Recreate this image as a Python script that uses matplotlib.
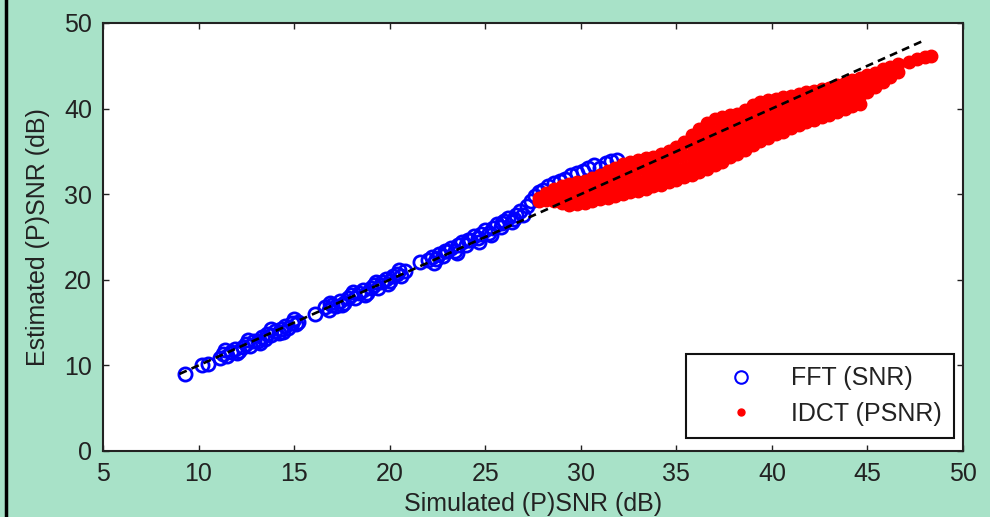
"""
plot.py - Estimated vs simulated (P)SNR, FFT and IDCT.
"""

import matplotlib
matplotlib.use("Agg")
import matplotlib.pyplot as plt
from matplotlib.lines import Line2D

plt.rcParams["font.family"] = ["Liberation Sans", "DejaVu Sans"]

# FFT (SNR) - cercles bleus
fft_x = [9.3, 10.2, 10.5, 11.1, 11.3, 11.5, 11.7, 11.9, 12.1, 12.3, 12.5,
         12.7, 12.9, 13.1, 13.3, 13.5, 13.6, 13.8, 14.0, 14.2, 14.3, 14.5,
         14.7, 14.9, 15.1, 15.2, 16.1, 16.6, 16.8, 17.0, 17.2, 17.4, 17.6,
         17.8, 18.0, 18.2, 18.4, 18.6, 18.8, 19.0, 19.2, 19.4, 19.6, 19.8,
         20.0, 20.2, 20.4, 20.6, 20.8, 21.6, 22.0, 22.2, 22.4, 22.6, 22.8,
         23.0, 23.2, 23.4, 23.6, 23.8, 24.0, 24.2, 24.4, 24.6, 24.8, 25.0,
         25.2, 25.4, 25.6, 25.8, 26.0, 26.2, 26.4, 26.6, 26.8, 27.0, 27.2,
         27.4, 27.6, 27.8, 28.0, 28.3, 28.6, 28.9, 29.2, 29.5, 29.8, 30.1,
         30.4, 30.7, 31.0, 31.3, 31.6, 31.9,
         11.4, 12.0, 12.6, 13.2, 13.8, 14.4, 15.0, 16.9, 17.5, 18.1, 18.7,
         19.3, 19.9, 20.5, 22.3, 22.9, 23.5, 24.1, 24.7, 25.3, 25.9, 26.5]
fft_y = [9.0, 10.0, 10.2, 10.9, 11.3, 11.1, 11.6, 11.9, 11.7, 12.2, 12.5,
         12.3, 12.9, 12.8, 13.3, 13.1, 13.7, 13.5, 14.0, 13.8, 14.3, 14.6,
         14.4, 14.9, 14.8, 15.1, 16.0, 16.8, 16.5, 17.1, 16.9, 17.5, 17.3,
         17.9, 18.2, 17.9, 18.5, 18.8, 18.5, 19.1, 19.4, 19.1, 19.8, 20.1,
         19.9, 20.4, 20.7, 20.5, 21.0, 22.1, 22.3, 22.7, 22.4, 23.0, 22.8,
         23.4, 23.7, 23.4, 24.1, 24.4, 24.1, 24.7, 25.1, 24.9, 25.4, 25.8,
         25.5, 26.1, 26.5, 26.2, 26.9, 27.2, 26.8, 27.6, 28.0, 27.6, 28.6,
         29.2, 29.8, 30.2, 30.5, 30.9, 31.3, 31.6, 31.8, 32.2, 32.5, 32.7,
         33.1, 33.4, 33.1, 33.6, 33.9, 34.0,
         11.8, 11.4, 13.0, 12.6, 14.2, 13.9, 15.4, 17.3, 17.0, 18.6, 18.2,
         19.8, 19.5, 21.1, 22.0, 23.4, 23.1, 24.6, 24.4, 25.2, 26.6, 27.1]

# IDCT (PSNR) - points rouges (une ligne = une colonne du nuage)
idct_x = [27.8, 27.8,
          28.2, 28.2,
          28.6, 28.6, 28.6,
          29.0, 29.0, 29.0,
          29.4, 29.4, 29.4, 29.4,
          29.8, 29.8, 29.8, 29.8,
          30.2, 30.2, 30.2, 30.2,
          30.6, 30.6, 30.6, 30.6,
          31.0, 31.0, 31.0, 31.0,
          31.4, 31.4, 31.4, 31.4,
          31.8, 31.8, 31.8, 31.8,
          32.2, 32.2, 32.2, 32.2,
          32.6, 32.6, 32.6, 32.6,
          33.0, 33.0, 33.0, 33.0,
          33.4, 33.4, 33.4, 33.4,
          33.8, 33.8, 33.8, 33.8,
          34.2, 34.2, 34.2, 34.2,
          34.6, 34.6, 34.6, 34.6,
          35.0, 35.0, 35.0, 35.0,
          35.4, 35.4, 35.4, 35.4,
          35.8, 35.8, 35.8, 35.8, 35.8,
          36.2, 36.2, 36.2, 36.2, 36.2,
          36.6, 36.6, 36.6, 36.6, 36.6,
          37.0, 37.0, 37.0, 37.0, 37.0,
          37.4, 37.4, 37.4, 37.4, 37.4,
          37.8, 37.8, 37.8, 37.8, 37.8,
          38.2, 38.2, 38.2, 38.2, 38.2,
          38.6, 38.6, 38.6, 38.6, 38.6,
          39.0, 39.0, 39.0, 39.0, 39.0,
          39.4, 39.4, 39.4, 39.4, 39.4,
          39.8, 39.8, 39.8, 39.8, 39.8,
          40.2, 40.2, 40.2, 40.2, 40.2,
          40.6, 40.6, 40.6, 40.6, 40.6,
          41.0, 41.0, 41.0, 41.0, 41.0,
          41.4, 41.4, 41.4, 41.4, 41.4,
          41.8, 41.8, 41.8, 41.8, 41.8,
          42.2, 42.2, 42.2, 42.2, 42.2,
          42.6, 42.6, 42.6, 42.6, 42.6,
          43.0, 43.0, 43.0, 43.0,
          43.4, 43.4, 43.4, 43.4,
          43.8, 43.8, 43.8, 43.8,
          44.2, 44.2, 44.2, 44.2,
          44.6, 44.6, 44.6, 44.6,
          45.0, 45.0, 45.0,
          45.4, 45.4, 45.4,
          45.8, 45.8, 45.8,
          46.2, 46.2,
          46.6, 46.6,
          47.2, 47.6, 48.0, 48.3]
idct_y = [29.2, 29.6,
          29.3, 30.1,
          29.2, 30.0, 30.6,
          29.0, 29.9, 30.9,
          28.7, 29.6, 30.5, 31.2,
          28.8, 29.8, 30.7, 31.4,
          29.0, 30.0, 30.9, 31.6,
          29.2, 30.1, 31.1, 31.9,
          29.4, 30.3, 31.4, 32.3,
          29.6, 30.6, 31.7, 32.7,
          29.8, 30.8, 32.0, 33.1,
          30.0, 31.0, 32.3, 33.5,
          30.2, 31.2, 32.6, 33.8,
          30.4, 31.4, 32.8, 34.0,
          30.6, 31.7, 33.0, 34.2,
          30.9, 31.9, 33.2, 34.4,
          31.1, 32.2, 33.5, 34.7,
          31.4, 32.5, 33.9, 35.1,
          31.7, 32.8, 34.2, 35.5,
          32.0, 33.1, 34.6, 36.1,
          32.3, 33.4, 34.7, 35.9, 36.9,
          32.6, 33.7, 35.0, 36.4, 37.6,
          33.0, 34.0, 35.4, 36.8, 38.3,
          33.4, 34.4, 35.8, 37.3, 38.8,
          33.8, 34.9, 36.3, 37.7, 39.0,
          34.3, 35.4, 36.7, 38.0, 39.2,
          34.7, 35.8, 37.1, 38.3, 39.4,
          35.2, 36.3, 37.5, 38.7, 39.8,
          35.7, 36.8, 38.0, 39.2, 40.4,
          36.2, 37.3, 38.5, 39.7, 40.8,
          36.6, 37.7, 38.9, 40.0, 41.0,
          37.0, 38.0, 39.2, 40.2, 41.1,
          37.3, 38.3, 39.4, 40.4, 41.3,
          37.7, 38.7, 39.8, 40.7, 41.5,
          38.1, 39.0, 40.0, 40.9, 41.7,
          38.4, 39.3, 40.3, 41.1, 41.9,
          38.7, 39.6, 40.5, 41.3, 42.1,
          39.0, 39.9, 40.8, 41.6, 42.3,
          39.3, 40.3, 41.3, 42.4,
          39.6, 40.6, 41.6, 42.7,
          39.9, 40.9, 41.9, 43.0,
          40.3, 41.3, 42.3, 43.3,
          40.5, 41.6, 42.6, 43.6,
          41.9, 42.9, 43.9,
          42.5, 43.4, 44.2,
          43.1, 43.9, 44.6,
          43.7, 44.9,
          44.3, 45.2,
          45.5, 45.8, 46.0, 46.2]

# droite y = x
ref_x = [9.0, 48.0]

x_ticks = [5, 10, 15, 20, 25, 30, 35, 40, 45, 50]
y_ticks = [0, 10, 20, 30, 40, 50]

FOND = "#a8e2c8"
GRIS = "#222222"

fig = plt.figure(figsize=(9.9, 5.17), dpi=100, facecolor=FOND)
ax = fig.add_axes([103 / 990, 66 / 517, 860 / 990, 428 / 517])
ax.set_facecolor("white")

ax.plot(fft_x, fft_y, "o", mfc="none", mec=(0, 0, 1), mew=2.0, ms=9.5,
        label="FFT (SNR)", zorder=2)
ax.plot(idct_x, idct_y, "o", mfc=(1, 0, 0), mec=(1, 0, 0), ms=9,
        label="IDCT (PSNR)", zorder=3)
ax.plot(ref_x, ref_x, "--", color="black", lw=1.9, dashes=(3.0, 2.0),
        zorder=4)

ax.set_xlim(5, 50)
ax.set_ylim(0, 50)
ax.set_xticks(x_ticks)
ax.set_yticks(y_ticks)
ax.tick_params(direction="in", length=4, width=1, top=True, right=True,
               labelsize=18, pad=8, colors=GRIS)
for s in ax.spines.values():
    s.set_linewidth(1.5)
    s.set_color(GRIS)

ax.set_xlabel("Simulated (P)SNR (dB)", fontsize=18, color=GRIS, labelpad=4)
ax.set_ylabel("Estimated (P)SNR (dB)", fontsize=18, color=GRIS, labelpad=10)

leg = ax.legend(loc="lower right", bbox_to_anchor=(0.9895, 0.030),
                borderaxespad=0, fontsize=18, handlelength=3.4,
                handletextpad=0.3, borderpad=0.5, labelspacing=0.45,
                fancybox=False, framealpha=1, edgecolor="#111111",
                numpoints=1)
leg.get_frame().set_linewidth(1.5)
leg.legend_handles[0].set_markeredgewidth(1.5)
leg.legend_handles[0].set_markersize(9)
leg.legend_handles[1].set_markersize(5)
for t in leg.get_texts():
    t.set_color(GRIS)

# trait noir sur le bord gauche
fig.add_artist(Line2D([5.5 / 990, 5.5 / 990], [0, 1], color="black", lw=2.5,
                      transform=fig.transFigure))

fig.savefig("out.png", dpi=100, facecolor=FOND)
